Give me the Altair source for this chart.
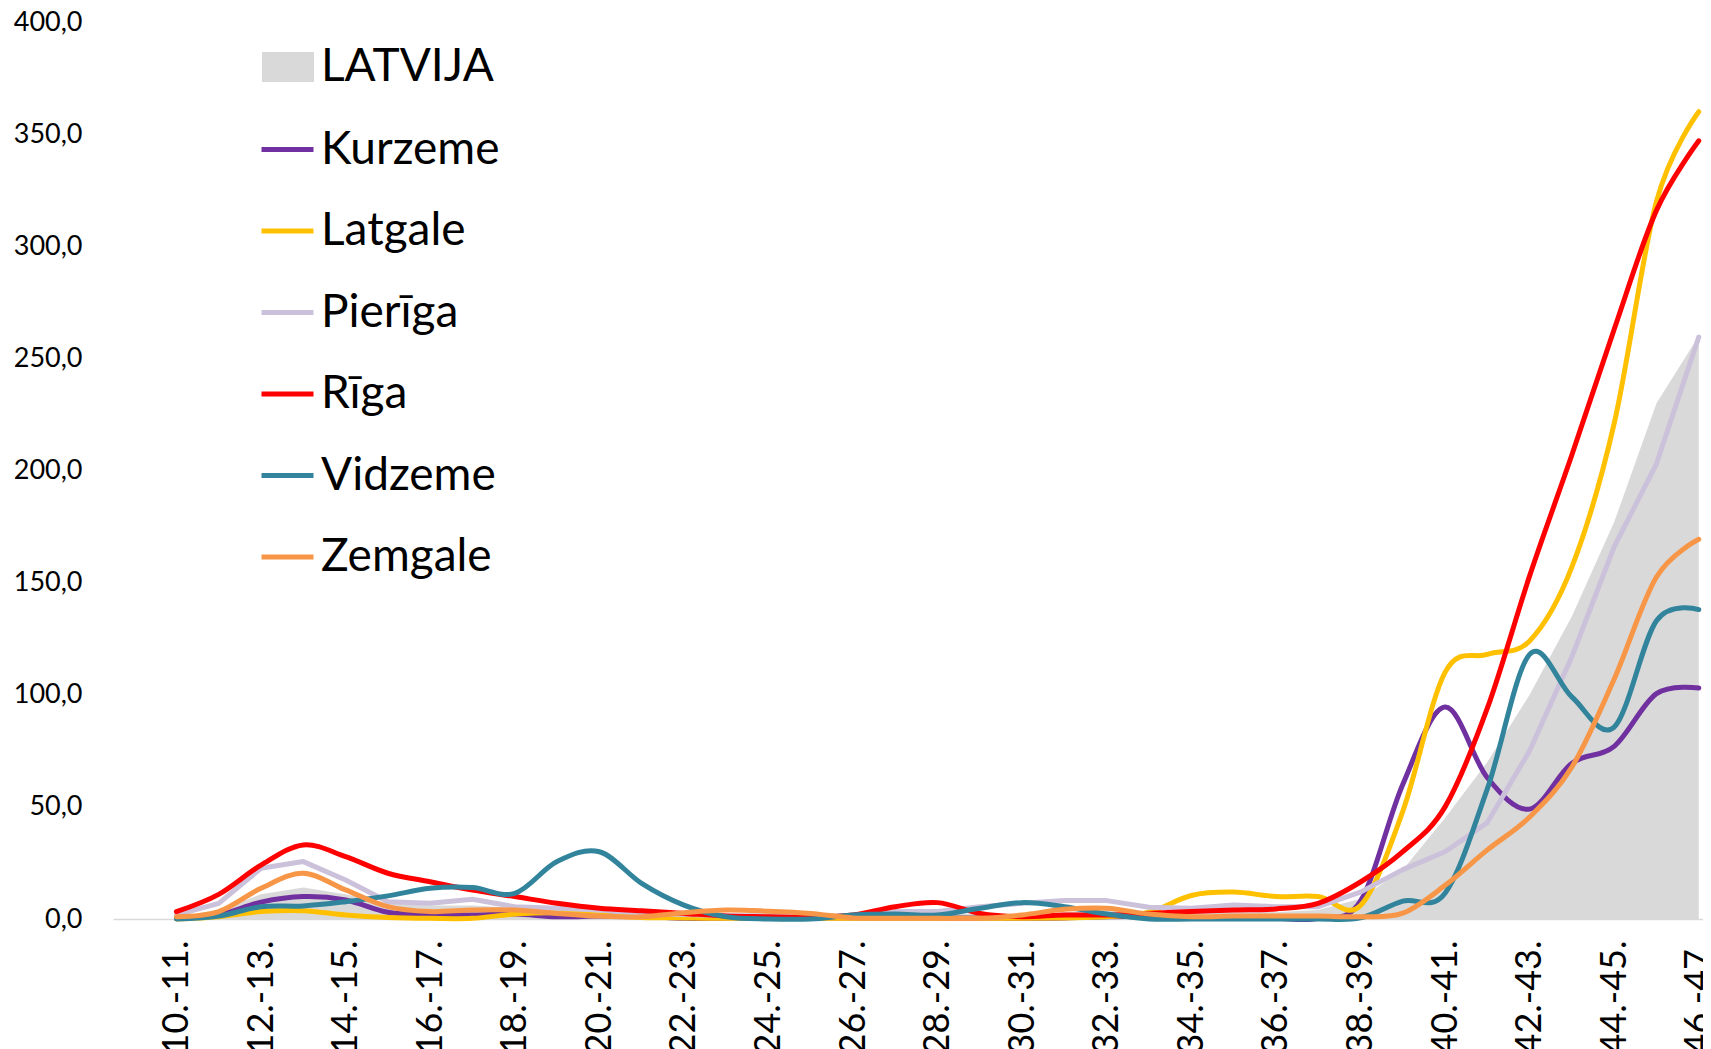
import json
import altair as alt
import pandas as pd

WEEKS = ["10.-11.", "11.-12.", "12.-13.", "13.-14.", "14.-15.", "15.-16.", "16.-17.",
         "17.-18.", "18.-19.", "19.-20.", "20.-21.", "21.-22.", "22.-23.", "23.-24.",
         "24.-25.", "25.-26.", "26.-27.", "27.-28.", "28.-29.", "29.-30.", "30.-31.",
         "31.-32.", "32.-33.", "33.-34.", "34.-35.", "35.-36.", "36.-37.", "37.-38.",
         "38.-39.", "39.-40.", "40.-41.", "41.-42.", "42.-43.", "43.-44.", "44.-45.",
         "45.-46.", "46.-47."]

LATVIJA = [1, 4, 11, 14, 11, 7, 6, 6, 5, 5, 5, 3, 2, 2, 2, 1.5, 1, 2, 3, 2, 2, 3, 4, 3, 3,
           4, 3, 4, 9, 22, 45, 70, 100, 135, 177, 230, 260]
KURZEME = [0.3, 1.8, 7.5, 10, 8.5, 3, 1.8, 1.8, 2.2, 1, 1.3, 1.3, 0.3, 0.5, 0.5, 0.5, 0.5,
           0.5, 0.5, 0.5, 0.3, 0.5, 1, 1, 0.5, 0.5, 0.3, 0.3, 8, 60, 94.5, 63, 49, 69.5,
           77, 100.5, 103]
LATGALE = [0, 1, 3.3, 3.7, 1.8, 0.7, 0.3, 0.3, 2.2, 2.8, 1.8, 0.7, 0.5, 0.3, 0.3, 0.3, 0.3,
           0.3, 0.3, 0.3, 0.3, 0.5, 1, 3, 10.5, 12, 10, 10, 6, 48, 110, 118, 124, 157, 221,
           320, 360]
PIERIGA = [1.8, 7, 22.6, 25.6, 17.4, 7.7, 7, 8.8, 5.5, 4.8, 4, 2.5, 2, 1.5, 1.5, 1.3, 1.3,
           3.3, 3.3, 5.5, 7, 8.2, 8.2, 5.2, 4.8, 6.2, 5.5, 5.5, 12, 22, 30, 43, 75, 117, 166,
           203, 259.5]
RIGA = [3.3, 11, 24, 33, 27.8, 20.4, 16.6, 12.9, 10, 7, 4.8, 3.7, 2.5, 1.3, 1, 0.7, 1.8, 5.5,
        7.3, 2.5, 1, 1.8, 1.8, 2.5, 3.3, 4, 4.5, 7, 16.5, 30, 50, 94, 153, 207, 263, 316, 347]
VIDZEME = [0, 1.3, 5.5, 5.8, 7.7, 10.3, 13.7, 14, 11.4, 25.6, 30, 15.9, 6.2, 1, 0, 0, 1.8,
           2.2, 1.8, 4.8, 7.3, 5.5, 2.2, 0, 0, 0, 0, 0, 0.5, 8, 11.5, 58, 118, 99, 85.6, 133,
           138]
ZEMGALE = [1, 3.3, 13.7, 20.4, 13, 5.5, 3.3, 4, 4, 2.5, 1.3, 1, 2.8, 4, 3.5, 2.5, 0.5, 0.3,
           0.3, 0.3, 1.8, 4.3, 4.8, 2.2, 1, 1.3, 1.3, 1.3, 1, 2.6, 15, 30.8, 45.5, 67.8, 107,
           152.5, 169.3]

REGIONS = ["Kurzeme", "Latgale", "Pierīga", "Rīga", "Vidzeme", "Zemgale"]
COLORS = ["#7030A0", "#FFC000", "#CCC1DA", "#FF0000", "#31849B", "#F79646"]
Y_TICKS = [0, 50, 100, 150, 200, 250, 300, 350, 400]

FONT = "Lato"

area_df = pd.DataFrame({"i": list(range(len(WEEKS))), "value": LATVIJA,
                        "series": ["LATVIJA"] * len(WEEKS)})
rows = []
for name, vals in zip(REGIONS, [KURZEME, LATGALE, PIERIGA, RIGA, VIDZEME, ZEMGALE]):
    for i, v in enumerate(vals):
        rows.append({"i": i, "value": v, "region": name})
lines_df = pd.DataFrame(rows)

label_expr = json.dumps(WEEKS) + "[datum.value]"

x = alt.X(
    "i:Q",
    scale=alt.Scale(domain=[-1.5, 36.1], nice=False, zero=False),
    axis=alt.Axis(
        values=list(range(0, len(WEEKS), 2)),
        labelExpr=label_expr,
        labelAngle=270,
        labelAlign="right",
        labelBaseline="middle",
        labelFontSize=36,
        labelFont=FONT,
        labelColor="#000000",
        labelPadding=21,
        labelOverlap=False,
        labelFlush=False,
        ticks=False,
        grid=False,
        domainColor="#D9D9D9",
        domainWidth=1.5,
        title=None,
    ),
)
y = alt.Y(
    "value:Q",
    scale=alt.Scale(domain=[0, 400], nice=False),
    axis=alt.Axis(
        values=Y_TICKS,
        labelExpr="replace(format(datum.value, '.1f'), '.', ',')",
        labelFontSize=27,
        labelFont=FONT,
        labelColor="#000000",
        labelPadding=31,
        ticks=False,
        grid=False,
        domain=False,
        title=None,
    ),
)

stroke = alt.Stroke(
    "region:N",
    scale=alt.Scale(domain=REGIONS, range=COLORS),
    legend=alt.Legend(
        orient="none", legendX=146, legendY=99, title=None,
        symbolType="stroke", symbolSize=2704, symbolStrokeWidth=5,
        labelFontSize=46, labelFont=FONT, labelColor="#000000",
        labelOffset=5, labelLimit=400, padding=0, rowPadding=29.5,
    ),
)

area = alt.Chart(area_df).mark_area(opacity=1, interpolate="linear").encode(
    x=x, y=y,
    fill=alt.Fill(
        "series:N",
        scale=alt.Scale(domain=["LATVIJA"], range=["#D9D9D9"]),
        legend=alt.Legend(
            orient="none", legendX=149, legendY=19, title=None,
            symbolType="M-1,-0.577H1V0.577H-1Z", symbolSize=2704, symbolStrokeWidth=0,
            labelFontSize=46, labelFont=FONT, labelColor="#000000",
            labelOffset=7, labelLimit=400, padding=0,
        ),
    ),
)

def line_layer(names, interp):
    return alt.Chart(lines_df).transform_filter(
        alt.FieldOneOfPredicate(field="region", oneOf=names)
    ).mark_line(strokeWidth=5, interpolate=interp, strokeCap="round", strokeJoin="round").encode(
        x=x, y=y, stroke=stroke, order="i:Q"
    )

chart = alt.layer(
    area,
    line_layer(["Kurzeme", "Latgale"], "cardinal"),
    line_layer(["Pierīga"], "linear"),
    line_layer(["Rīga", "Vidzeme", "Zemgale"], "cardinal"),
).properties(
    width=1590,
    height=897,
    autosize=alt.AutoSizeParams(type="none"),
    padding={"left": 105, "top": 14, "right": 0, "bottom": 140},
).configure_view(stroke=None)

chart.save("out.html", embed_options={"renderer": "svg", "actions": False})
